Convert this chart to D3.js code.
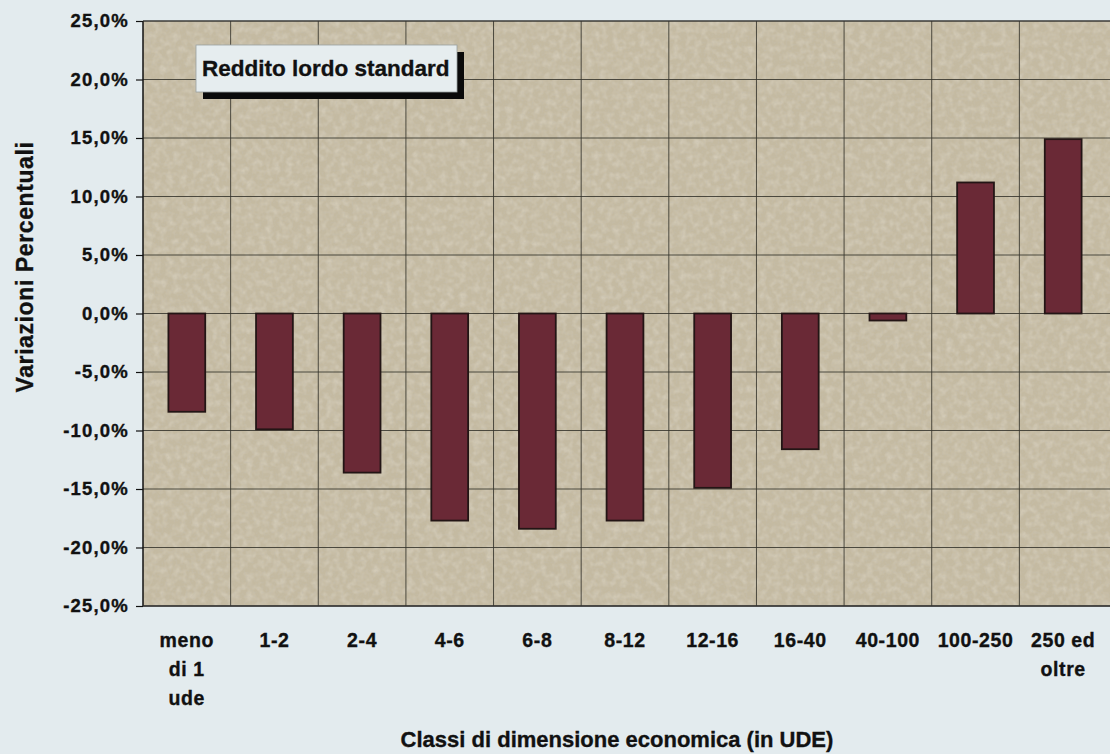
<!DOCTYPE html>
<html>
<head>
<meta charset="utf-8">
<script src="https://cdn.jsdelivr.net/npm/d3@7"></script>
<style>
  html, body { margin: 0; padding: 0; background: #e3ebee; }
  svg { display: block; }
  text { font-family: "Liberation Sans", Arial, sans-serif; font-weight: bold; fill: #111; stroke: #111; stroke-width: 0.35px; }
</style>
</head>
<body>
<svg id="chart" width="1110" height="754"></svg>
<script>
const categories = ["meno\ndi 1\nude", "1-2", "2-4", "4-6", "6-8", "8-12", "12-16", "16-40", "40-100", "100-250", "250 ed\noltre"];
const values = [-8.4, -9.9, -13.6, -17.7, -18.4, -17.7, -14.9, -11.6, -0.6, 11.2, 14.9];
const yTicks = [-25, -20, -15, -10, -5, 0, 5, 10, 15, 20, 25];
const chartTitle = "Reddito lordo standard";
const yTitle = "Variazioni Percentuali";
const xTitle = "Classi di dimensione economica (in UDE)";

const svg = d3.select("#chart");
const W = 1110, H = 754;
const plot = { left: 143, right: 1107, top: 21, bottom: 606 };

svg.append("rect").attr("width", W).attr("height", H).attr("fill", "#e3ebee");

const defs = svg.append("defs");
const f = defs.append("filter").attr("id", "stone").attr("x", 0).attr("y", 0).attr("width", 1).attr("height", 1);
f.append("feTurbulence").attr("type", "fractalNoise").attr("baseFrequency", 0.5).attr("numOctaves", 2).attr("seed", 7).attr("result", "noise");
f.append("feColorMatrix").attr("in", "noise").attr("type", "matrix")
  .attr("values", "0 0 0 0 0.55  0 0 0 0 0.51  0 0 0 0 0.42  0 0 0 -1.3 0.72").attr("result", "spots");
f.append("feTurbulence").attr("type", "fractalNoise").attr("baseFrequency", 0.15).attr("numOctaves", 2).attr("seed", 3).attr("result", "noise2");
f.append("feColorMatrix").attr("in", "noise2").attr("type", "matrix")
  .attr("values", "0 0 0 0 0.84  0 0 0 0 0.80  0 0 0 0 0.70  0 0 0 -0.7 0.42").attr("result", "light");
f.append("feMerge").selectAll("feMergeNode").data(["SourceGraphic", "light", "spots"]).enter()
  .append("feMergeNode").attr("in", d => d);

const x = d3.scaleBand().domain(d3.range(categories.length)).range([plot.left, plot.right]).padding(0);
const y = d3.scaleLinear().domain([-25, 25]).range([plot.bottom, plot.top]);

// plot background
svg.append("rect")
  .attr("x", plot.left).attr("y", plot.top)
  .attr("width", W - plot.left).attr("height", plot.bottom - plot.top)
  .attr("fill", "#c4baa1").attr("filter", "url(#stone)");

// horizontal gridlines
svg.append("g").selectAll("line").data(yTicks).enter().append("line")
  .attr("x1", plot.left).attr("x2", W)
  .attr("y1", d => y(d)).attr("y2", d => y(d))
  .attr("stroke", "#35342c").attr("stroke-width", 1).attr("stroke-opacity", 0.85);

// vertical gridlines at category boundaries
svg.append("g").selectAll("line").data(d3.range(1, categories.length)).enter().append("line")
  .attr("x1", d => x(d)).attr("x2", d => x(d))
  .attr("y1", plot.top).attr("y2", plot.bottom)
  .attr("stroke", "#35342c").attr("stroke-width", 1).attr("stroke-opacity", 0.85);

// bars
const barW = x.bandwidth() * 0.42;
svg.append("g").selectAll("rect").data(values).enter().append("rect")
  .attr("x", (d, i) => x(i) + x.bandwidth() / 2 - barW / 2)
  .attr("y", d => y(Math.max(0, d)))
  .attr("width", barW)
  .attr("height", d => Math.abs(y(d) - y(0)))
  .attr("fill", "#6a2936")
  .attr("stroke", "#231515").attr("stroke-width", 1.8);

// axes lines
svg.append("line").attr("x1", plot.left).attr("x2", plot.left).attr("y1", plot.top).attr("y2", plot.bottom)
  .attr("stroke", "#111").attr("stroke-width", 1.5);
svg.append("line").attr("x1", plot.left).attr("x2", W).attr("y1", plot.bottom).attr("y2", plot.bottom)
  .attr("stroke", "#333").attr("stroke-width", 1.5);
svg.append("line").attr("x1", plot.left).attr("x2", W).attr("y1", plot.top).attr("y2", plot.top)
  .attr("stroke", "#333").attr("stroke-width", 1.2);

// y axis
const yAxis = d3.axisLeft(y).tickValues(yTicks).tickSize(7).tickPadding(8)
  .tickFormat(d => d.toFixed(1).replace(".", ",") + "%");
const gy = svg.append("g").attr("transform", `translate(${plot.left},0)`).call(yAxis);
gy.select(".domain").remove();
gy.selectAll(".tick line").attr("stroke", "#111").attr("stroke-width", 1.2);
gy.selectAll(".tick text")
  .style("font-family", "'Liberation Sans', Arial, sans-serif")
  .style("font-weight", "bold").style("font-size", "18.5px").style("letter-spacing", "1.2px")
  .attr("fill", "#111").attr("dx", "1px");

// x labels
const xl = svg.append("g");
categories.forEach((c, i) => {
  const t = xl.append("text")
    .attr("x", x(i) + x.bandwidth() / 2)
    .attr("y", 647)
    .attr("text-anchor", "middle")
    .style("font-size", "19.5px")
    .style("letter-spacing", "0.6px");
  c.split("\n").forEach((line, k) => {
    t.append("tspan").attr("x", x(i) + x.bandwidth() / 2).attr("dy", k === 0 ? 0 : 29).text(line);
  });
});

// axis titles
svg.append("text").attr("x", 617).attr("y", 747).attr("text-anchor", "middle")
  .style("font-size", "22px").text(xTitle);
svg.append("text").attr("transform", "translate(33,267) rotate(-90)").attr("text-anchor", "middle")
  .style("font-size", "23px").style("letter-spacing", "0.6px").text(yTitle);

// chart title box
const tb = svg.append("g");
tb.append("rect").attr("x", 203).attr("y", 52).attr("width", 261).attr("height", 47).attr("fill", "#0a0a0a");
tb.append("rect").attr("x", 196).attr("y", 45).attr("width", 261).attr("height", 47)
  .attr("fill", "#e6edef").attr("stroke", "#9aa0a0").attr("stroke-width", 0.8);
tb.append("text").attr("x", 202).attr("y", 76).style("font-size", "22.5px").text(chartTitle);
</script>
</body>
</html>
